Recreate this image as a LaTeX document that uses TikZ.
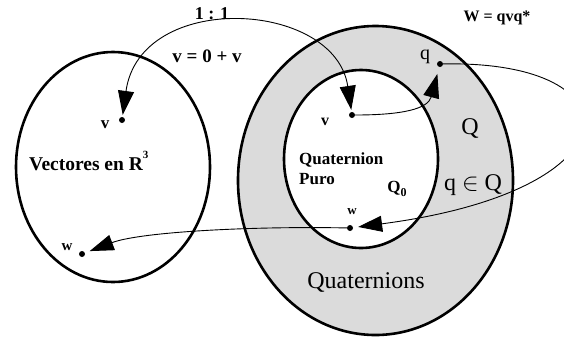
\documentclass[tikz,border=0pt]{standalone}
\usepackage{fontspec}
\setmainfont{Liberation Serif}
\usetikzlibrary{arrows.meta}

\begin{document}
\begin{tikzpicture}[x=1pt, y=-1pt, >={Triangle[length=24pt,width=16pt]},
  pt/.style={circle, fill, inner sep=0pt, minimum size=6pt},
  bf/.style={font=\fontsize{17}{20}\selectfont\bfseries, inner sep=0pt},
  rm/.style={font=\fontsize{24}{26}\selectfont, inner sep=0pt},
  set/.style={line width=2.6pt},
  map/.style={line width=0.9pt}]
  \useasboundingbox (0,0) rectangle (564,341);
  \draw[set, fill=black!14] (375.5,180.5) ellipse [x radius=137.5, y radius=154.5];
  \draw[set, fill=white] (361,159) ellipse [x radius=77, y radius=89];
  \draw[set] (113,167) ellipse [x radius=97, y radius=115];

  \node[pt](vL) at (122,120){};
  \node[pt](wL) at (82,254){};
  \node[pt](vQ) at (352,115){};
  \node[pt](wQ) at (350,228){};
  \node[pt](q) at (440,64){};

  \node[bf, font=\fontsize{18}{20}\selectfont\bfseries](ratio) at (212,14){1 : 1};
  \node[bf, font=\fontsize{19}{20}\selectfont\bfseries](embed) at (207,56){v = 0 + v};
  \node[bf, font=\fontsize{16}{18}\selectfont\bfseries](rot) at (497,18){W = qvq*};
  \node[bf, font=\fontsize{19.5}{20}\selectfont\bfseries, anchor=base west](setR) at (29,170)
    {Vectores en R\raisebox{1.3ex}{\fontsize{11}{11}\selectfont 3}};
  \node[bf, align=left, anchor=north west](setP) at (299,152){Quaternion\\Puro};
  \node[bf](setQ0) at (397,189){Q\raisebox{-.6ex}{\fontsize{12}{12}\selectfont 0}};
  \node[bf, font=\fontsize{17}{20}\selectfont\bfseries](vLl) at (105,125){v};
  \node[bf, font=\fontsize{15}{18}\selectfont\bfseries](wLl) at (67,247){w};
  \node[bf, font=\fontsize{16}{18}\selectfont\bfseries](vQl) at (325,122){v};
  \node[bf, font=\fontsize{13}{15}\selectfont\bfseries](wQl) at (352,212){w};
  \node[rm, font=\fontsize{20}{22}\selectfont](ql) at (425,57){q};
  \node[rm](setQ) at (470,128){Q};
  \node[rm, anchor=base](qin) at (473,190){q $\in$ Q};
  \node[rm, anchor=base](quat) at (366,288){Quaternions};

  \draw[map, <->, shorten <=2pt, shorten >=2pt] (vL) .. controls +(18,-130) and +(-17,-115) .. (vQ);
  \draw[map, ->, shorten >=7pt] (vQ) .. controls +(50,0) and +(-12,45) .. (q);
  \draw[map, ->, shorten >=5pt] (q) .. controls +(200,-4) and +(290,-38) .. (wQ);
  \draw[map, ->, shorten >=5pt] (wQ) .. controls +(-100,-2) and +(58,-22) .. (wL);
\end{tikzpicture}
\end{document}
